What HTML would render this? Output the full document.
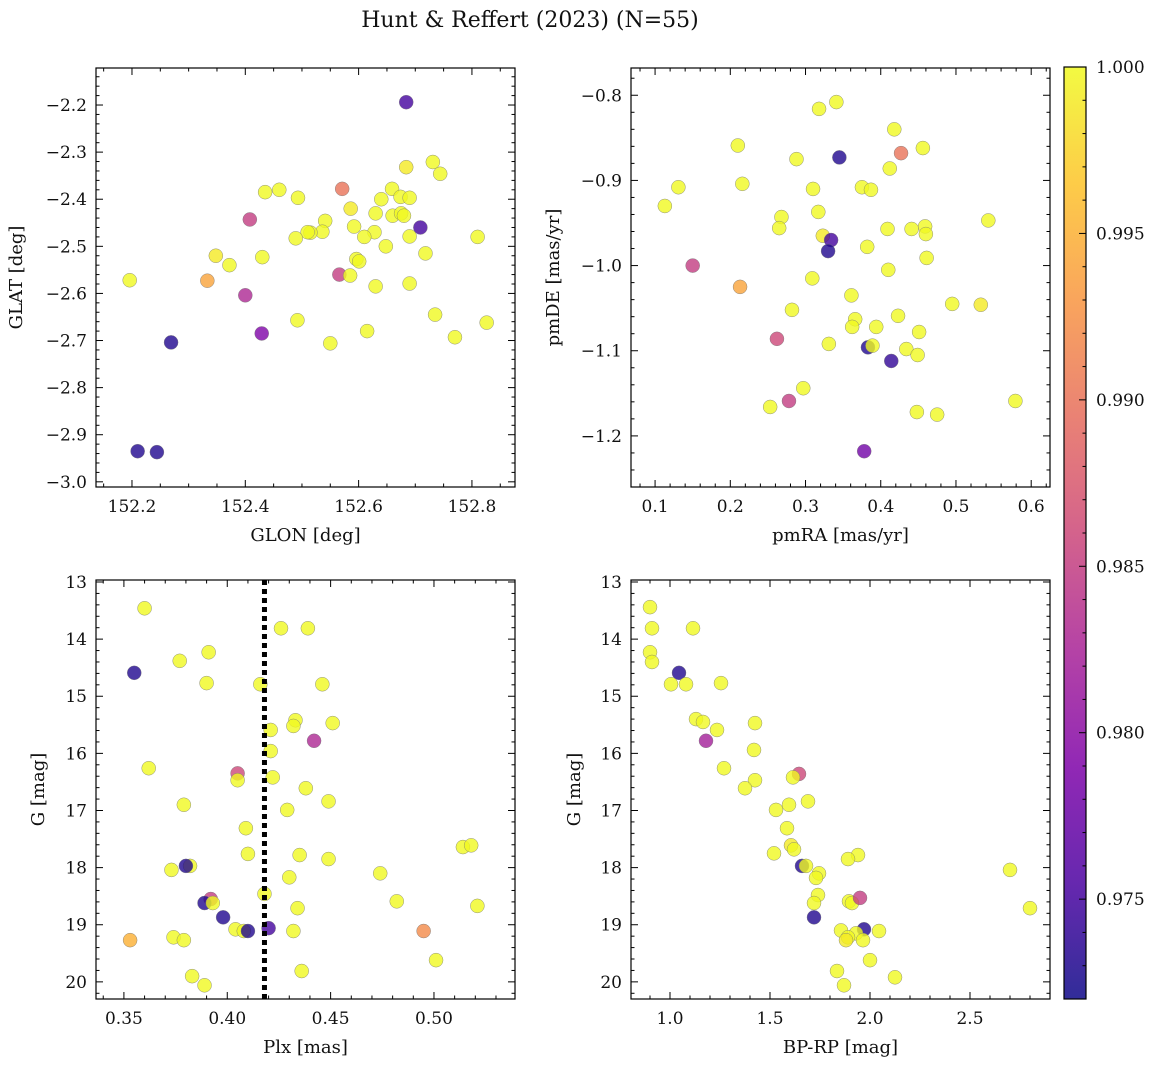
<!DOCTYPE html>
<html><head><meta charset="utf-8"><style>
html,body{margin:0;padding:0;background:#fff;}
svg text{font-family:"DejaVu Serif","Liberation Serif",serif;fill:#111;}
</style></head><body>
<svg id="fig" width="1161" height="1067" xmlns="http://www.w3.org/2000/svg">
<defs>
<linearGradient id="plasma" x1="0" y1="1" x2="0" y2="0">
<stop offset="0" stop-color="#0d0887"/><stop offset="0.125" stop-color="#4c02a1"/><stop offset="0.25" stop-color="#7e03a8"/><stop offset="0.375" stop-color="#a82296"/><stop offset="0.5" stop-color="#cc4778"/><stop offset="0.625" stop-color="#e66c5c"/><stop offset="0.75" stop-color="#f89540"/><stop offset="0.875" stop-color="#fdc328"/><stop offset="1" stop-color="#f0f921"/>
</linearGradient>
</defs>
<text x="530" y="27" font-size="22" text-anchor="middle">Hunt &amp; Reffert (2023) (N=55)</text>
</svg>
<script>
// ---- data ----
const glon=[152.684,152.731,152.744,152.684,152.571,152.435,152.46,152.659,152.493,152.64,152.674,152.69,152.66,152.675,152.68,152.586,152.63,152.408,152.541,152.592,152.709,152.536,152.515,152.51,152.628,152.61,152.69,152.489,152.81,152.648,152.348,152.718,152.43,152.596,152.601,152.372,152.566,152.585,152.196,152.333,152.63,152.69,152.4,152.735,152.492,152.826,152.615,152.429,152.55,152.77,152.269,152.21,152.244];
const glat=[-2.194,-2.321,-2.346,-2.332,-2.378,-2.385,-2.38,-2.378,-2.397,-2.40,-2.395,-2.397,-2.435,-2.43,-2.435,-2.42,-2.43,-2.443,-2.446,-2.458,-2.46,-2.469,-2.471,-2.47,-2.47,-2.48,-2.479,-2.483,-2.48,-2.5,-2.52,-2.515,-2.523,-2.527,-2.532,-2.54,-2.56,-2.562,-2.572,-2.573,-2.585,-2.579,-2.604,-2.645,-2.657,-2.662,-2.68,-2.685,-2.706,-2.693,-2.704,-2.935,-2.937];
const probA=[0.975,1,1,0.999,0.990,1,1,1,1,1,1,1,1,1,1,0.999,1,0.985,1,1,0.975,1,1,1,1,1,1,1,1,1,0.999,1,1,1,1,1,0.985,1,1,0.994,1,1,0.983,1,1,1,1,0.979,1,1,0.973,0.973,0.973];

const pmra=[0.341,0.318,0.418,0.21,0.456,0.427,0.345,0.288,0.412,0.131,0.216,0.31,0.375,0.387,0.113,0.317,0.268,0.543,0.459,0.409,0.441,0.265,0.46,0.323,0.334,0.33,0.382,0.461,0.15,0.41,0.309,0.213,0.361,0.495,0.533,0.282,0.423,0.366,0.394,0.362,0.451,0.331,0.262,0.383,0.389,0.434,0.449,0.414,0.297,0.278,0.579,0.253,0.448,0.475,0.378];
const pmde=[-0.808,-0.816,-0.84,-0.859,-0.862,-0.868,-0.873,-0.875,-0.886,-0.908,-0.904,-0.91,-0.908,-0.911,-0.93,-0.937,-0.943,-0.947,-0.954,-0.957,-0.957,-0.956,-0.963,-0.965,-0.97,-0.983,-0.978,-0.991,-1.0,-1.005,-1.015,-1.025,-1.035,-1.045,-1.046,-1.052,-1.059,-1.063,-1.072,-1.072,-1.078,-1.092,-1.086,-1.096,-1.094,-1.098,-1.105,-1.112,-1.144,-1.159,-1.159,-1.166,-1.172,-1.175,-1.218];
const probB=[1,1,1,1,1,0.990,0.973,1,1,1,1,1,1,1,1,1,1,1,1,1,1,1,1,0.999,0.975,0.973,1,1,0.985,1,1,0.994,1,1,0.999,1,1,1,1,1,1,1,0.986,0.973,1,1,1,0.974,1,0.985,1,1,1,1,0.978];

const plx=[0.360,0.426,0.439,0.355,0.377,0.391,0.39,0.416,0.446,0.433,0.432,0.451,0.421,0.442,0.421,0.362,0.405,0.405,0.422,0.438,0.379,0.449,0.429,0.409,0.41,0.435,0.449,0.382,0.38,0.373,0.514,0.518,0.474,0.43,0.418,0.482,0.521,0.392,0.389,0.393,0.434,0.398,0.404,0.408,0.41,0.42,0.432,0.495,0.353,0.374,0.379,0.501,0.436,0.383,0.389];
const gPlx=[13.46,13.81,13.81,14.59,14.38,14.23,14.77,14.79,14.79,15.42,15.52,15.47,15.59,15.78,15.96,16.26,16.35,16.47,16.42,16.61,16.9,16.84,16.99,17.31,17.76,17.78,17.85,17.97,17.97,18.04,17.64,17.61,18.1,18.17,18.46,18.59,18.67,18.55,18.62,18.62,18.71,18.87,19.08,19.11,19.11,19.06,19.11,19.11,19.27,19.22,19.27,19.62,19.81,19.9,20.06];
const probC=[1,1,1,0.973,1,1,1,1,1,1,1,1,1,0.983,1,1,0.986,1,1,1,1,1,1,1,1,1,1,1,0.973,1,1,1,1,1,1,1,1,0.985,0.973,1,1,0.973,1,1,0.973,0.975,1,0.992,0.995,1,1,1,1,1,1];
const plxCut=[0.418];

const bprp=[0.9,0.91,0.9,0.91,1.115,1.045,1.005,1.08,1.255,1.13,1.165,1.235,1.425,1.18,1.42,1.27,1.425,1.375,1.645,1.615,1.69,1.595,1.53,1.585,1.605,1.62,1.52,1.94,1.89,1.66,1.68,1.745,1.73,2.7,1.74,1.895,1.91,1.95,1.72,2.8,1.72,1.97,1.855,1.93,2.045,1.89,1.88,1.965,2.0,1.835,2.125,1.87];
const gCmd=[13.44,13.81,14.23,14.4,13.81,14.59,14.79,14.79,14.77,15.4,15.45,15.59,15.47,15.78,15.94,16.26,16.47,16.61,16.36,16.42,16.84,16.9,16.99,17.31,17.61,17.68,17.75,17.78,17.85,17.97,17.97,18.1,18.18,18.04,18.48,18.59,18.62,18.53,18.62,18.71,18.87,19.08,19.1,19.15,19.11,19.22,19.27,19.27,19.62,19.81,19.92,20.06];
const probD=[1,1,1,1,1,0.973,1,1,1,1,1,1,1,0.982,1,1,1,1,0.986,1,1,1,1,1,0.999,1,1,1,1,0.973,1,1,1,1,1,1,1,0.985,1,1,0.973,0.973,1,1,1,1,0.999,1,1,1,1,1];

const cbTicks=[0.975,0.980,0.985,0.990,0.995,1.000];

// ---- rendering ----
const NS="http://www.w3.org/2000/svg";
const svg=document.getElementById('fig');
function mk(tag,attrs,parent){const e=document.createElementNS(NS,tag);for(const k in attrs)e.setAttribute(k,attrs[k]);(parent||svg).appendChild(e);return e;}
const stops=[[0,[13,8,135]],[0.125,[76,2,161]],[0.25,[126,3,168]],[0.375,[168,34,150]],[0.5,[204,71,120]],[0.625,[230,108,92]],[0.75,[248,149,64]],[0.875,[253,195,40]],[1,[240,249,33]]];
const VMIN=0.972,VMAX=1.0;
function cmap(v){let t=(v-VMIN)/(VMAX-VMIN);t=Math.max(0,Math.min(1,t));for(let i=1;i<stops.length;i++){if(t<=stops[i][0]){const a=stops[i-1],b=stops[i];const f=(t-a[0])/(b[0]-a[0]);const c=a[1].map((x,j)=>Math.round(x+(b[1][j]-x)*f));return `rgb(${c[0]},${c[1]},${c[2]})`;}}return 'rgb(240,249,33)';}
function fmt(v,d){return v.toFixed(d).replace('-','\u2212');}

function panel(o){
  const g=mk('g',{});
  
  
  const sx=v=>o.x0+(v-o.xmin)/(o.xmax-o.xmin)*(o.x1-o.x0);
  const sy=v=>o.inv? o.y0+(v-o.ymin)/(o.ymax-o.ymin)*(o.y1-o.y0) : o.y1-(v-o.ymin)/(o.ymax-o.ymin)*(o.y1-o.y0);
  for(let i=0;i<o.xs.length;i++){
    const c=mk('circle',{cx:sx(o.xs[i]),cy:sy(o.ys[i]),r:7,fill:cmap(o.ps[i]),'fill-opacity':0.8,stroke:'#777','stroke-width':0.5,'stroke-opacity':0.8},g);
    
    
  }
  if(o.vline){const l=mk('line',{x1:sx(o.vline),x2:sx(o.vline),y1:o.y0,y2:o.y1,stroke:'#000','stroke-width':5,'stroke-dasharray':'5,4'},g);
    
    }
  mk('rect',{x:o.x0,y:o.y0,width:o.x1-o.x0,height:o.y1-o.y0,fill:'none',stroke:'#000','stroke-width':1.2},g);
  const eps=1e-9;
  for(let v=Math.ceil(o.xmin/o.xminor-eps)*o.xminor;v<=o.xmax+eps;v+=o.xminor){
    const x=sx(v);const major=Math.abs(v/o.xmajor-Math.round(v/o.xmajor))<1e-6;const L=major?7:3.5;
    mk('line',{x1:x,x2:x,y1:o.y1,y2:o.y1-L,stroke:'#000','stroke-width':1},g);
    mk('line',{x1:x,x2:x,y1:o.y0,y2:o.y0+L,stroke:'#000','stroke-width':1},g);
    if(major){const t=mk('text',{x:x,y:o.y1+25,'font-size':17,'text-anchor':'middle'},g);t.textContent=fmt(v,o.xdec);
      }
  }
  for(let v=Math.ceil(o.ymin/o.yminor-eps)*o.yminor;v<=o.ymax+eps;v+=o.yminor){
    const y=sy(v);const major=Math.abs(v/o.ymajor-Math.round(v/o.ymajor))<1e-6;const L=major?7:3.5;
    mk('line',{x1:o.x0,x2:o.x0+L,y1:y,y2:y,stroke:'#000','stroke-width':1},g);
    mk('line',{x1:o.x1,x2:o.x1-L,y1:y,y2:y,stroke:'#000','stroke-width':1},g);
    if(major){const t=mk('text',{x:o.x0-9,y:y+6,'font-size':17,'text-anchor':'end'},g);t.textContent=fmt(v,o.ydec);
      }
  }
  const xl=mk('text',{x:(o.x0+o.x1)/2,y:o.y1+54,'font-size':18,'text-anchor':'middle'},g);xl.textContent=o.xlabel;
  
  const yx=o.ylx;const yy=(o.y0+o.y1)/2;
  const yl=mk('text',{x:yx,y:yy,'font-size':18,'text-anchor':'middle',transform:`rotate(-90 ${yx} ${yy})`},g);yl.textContent=o.ylabel;
  
}

panel({name:'glon-glat-panel',xs:glon,ys:glat,ps:probA,x0:96,x1:515,y0:68,y1:487,xmin:152.1365,xmax:152.876,ymin:-3.011,ymax:-2.1214,xmajor:0.2,xminor:0.05,ymajor:0.1,yminor:0.02,xdec:1,ydec:1,xlabel:'GLON [deg]',ylabel:'GLAT [deg]',ylx:22});
panel({name:'proper-motion-panel',xs:pmra,ys:pmde,ps:probB,x0:631,x1:1050,y0:68,y1:487,xmin:0.068,xmax:0.625,ymin:-1.26,ymax:-0.768,xmajor:0.1,xminor:0.02,ymajor:0.1,yminor:0.02,xdec:1,ydec:1,xlabel:'pmRA [mas/yr]',ylabel:'pmDE [mas/yr]',ylx:559});
panel({name:'parallax-mag-panel',xs:plx,ys:gPlx,ps:probC,x0:96,x1:515,y0:580,y1:999,xmin:0.3365,xmax:0.5392,ymin:12.965,ymax:20.30,inv:true,xmajor:0.05,xminor:0.01,ymajor:1,yminor:0.2,xdec:2,ydec:0,xlabel:'Plx [mas]',ylabel:'G [mag]',ylx:44,vline:plxCut[0]});
panel({name:'cmd-panel',xs:bprp,ys:gCmd,ps:probD,x0:631,x1:1050,y0:580,y1:999,xmin:0.805,xmax:2.9,ymin:12.965,ymax:20.30,inv:true,xmajor:0.5,xminor:0.1,ymajor:1,yminor:0.2,xdec:1,ydec:0,xlabel:'BP-RP [mag]',ylabel:'G [mag]',ylx:580});

const cb=mk('g',{});


const cbx0=1064,cbx1=1086,cby0=67,cby1=999;
mk('rect',{x:cbx0,y:cby0,width:cbx1-cbx0,height:cby1-cby0,fill:'url(#plasma)','fill-opacity':0.85,stroke:'#000','stroke-width':1.2},cb);
const cy=v=>cby1-(v-VMIN)/(VMAX-VMIN)*(cby1-cby0);
for(let k=0;k<=28;k++){const v=VMIN+k*0.001;const y=cy(v);const major=Math.abs(v*200-Math.round(v*200))<1e-6;
  mk('line',{x1:cbx1,x2:cbx1-(major?7:3.5),y1:y,y2:y,stroke:'#000','stroke-width':1},cb);}
cbTicks.forEach(v=>{const t=mk('text',{x:cbx1+10,y:cy(v)+6,'font-size':17},cb);t.textContent=v.toFixed(3);
  
  });
</script>
</body></html>
